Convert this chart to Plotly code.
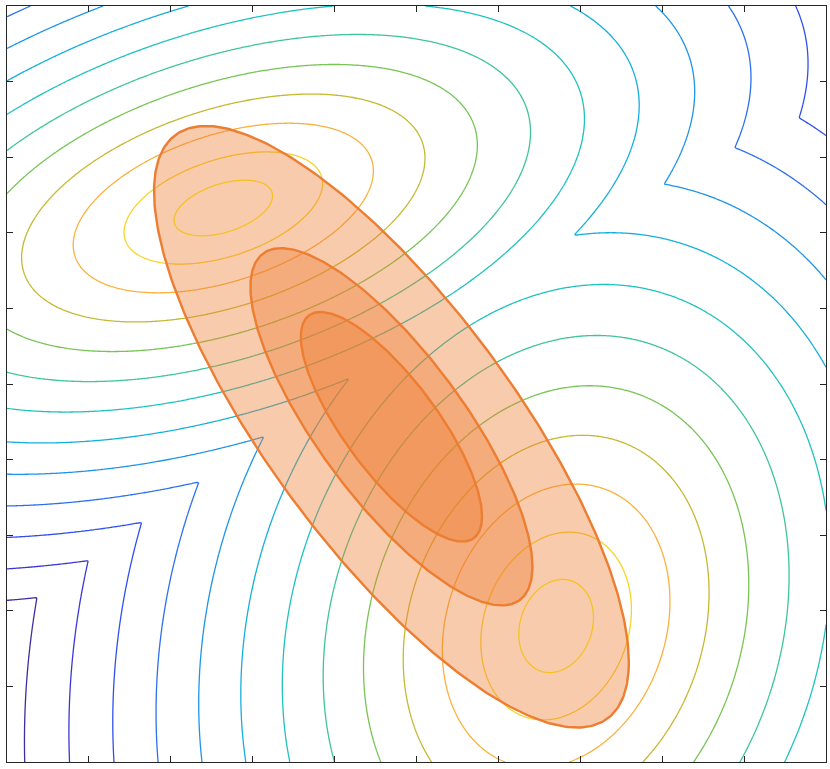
import numpy as np
import plotly.graph_objects as go

# ---- data (axis units 0..10) ----
peak_x = [2.641, 6.705]
peak_y = [7.328, 1.799]
peak_sxx = [0.3559, 0.2046]
peak_syy = [0.1333, 0.3735]
peak_sxy = [0.0951, 0.0480]
level_first = 1
level_last = 13
level_growth = 0.008  # rings spread slightly outward

# line colour of each contour level, level 1 (innermost) .. level 13 (outermost)
level_colors = [
    "#f9f01a", "#f7d42a", "#fbb03e", "#c6b932", "#78c455", "#3ec695", "#1fc2bf",
    "#16afdc", "#1f94e8", "#2c70f0", "#304ff0", "#3b37d6", "#3d2f9e",
]

ellipse_cx = 4.694
ellipse_cy = 4.434
ellipse_sxx = 1.224
ellipse_syy = 2.306
ellipse_sxy = -1.314
ellipse_scales = [2.62, 1.556, 1.0]

tick_vals = list(range(0, 11))

nlev = len(level_colors)
colorscale = [[i / (nlev - 1), level_colors[nlev - 1 - i]] for i in range(nlev)]

# ---- field: distance to the nearest component ----
gx = np.linspace(0, 10, 600)
gy = np.linspace(0, 10, 600)
X, Y = np.meshgrid(gx, gy)
dists = []
for cx, cy, sxx, syy, sxy in zip(peak_x, peak_y, peak_sxx, peak_syy, peak_sxy):
    det = sxx * syy - sxy ** 2
    dx = X - cx
    dy = Y - cy
    d2 = (syy * dx ** 2 - 2 * sxy * dx * dy + sxx * dy ** 2) / det
    dists.append(np.sqrt(d2))
D = np.minimum(dists[0], dists[1])
K = (-1 + np.sqrt(1 + 4 * level_growth * D)) / (2 * level_growth)
Z = -K

fig = go.Figure()
fig.add_trace(go.Contour(
    x=gx, y=gy, z=Z,
    contours=dict(coloring="lines", start=-level_last, end=-level_first, size=1),
    zmin=-level_last, zmax=-level_first,
    colorscale=colorscale, showscale=False,
    line=dict(width=1.3, smoothing=0),
    hoverinfo="skip",
))

# ---- covariance ellipses ----
S = np.array([[ellipse_sxx, ellipse_sxy], [ellipse_sxy, ellipse_syy]])
L = np.linalg.cholesky(S)
t = np.linspace(0, 2 * np.pi, 361)
circ = np.vstack([np.cos(t), np.sin(t)])
for s in ellipse_scales:
    pts = s * (L @ circ)
    fig.add_trace(go.Scatter(
        x=ellipse_cx + pts[0], y=ellipse_cy + pts[1],
        mode="lines", fill="toself",
        fillcolor="rgba(237,125,49,0.4)",
        line=dict(color="#ed7d31", width=2.4),
        hoverinfo="skip", showlegend=False,
    ))

axis_common = dict(
    range=[0, 10], tickvals=tick_vals, showticklabels=False,
    ticks="inside", ticklen=6, tickwidth=1, tickcolor="#262626",
    showline=True, linecolor="#262626", linewidth=1, mirror="ticks",
    showgrid=False, zeroline=False,
)
fig.update_layout(
    width=830, height=769,
    margin=dict(l=7, r=4, t=6, b=7),
    paper_bgcolor="white", plot_bgcolor="white",
    xaxis=axis_common, yaxis=axis_common,
    showlegend=False,
)
fig.write_html("out.html", config={"displayModeBar": False})
with open("out.html", encoding="utf-8") as fh:
    html = fh.read()
html = html.replace("<head>", "<head><style>html,body{margin:0;padding:0;}</style>", 1)
with open("out.html", "w", encoding="utf-8") as fh:
    fh.write(html)
